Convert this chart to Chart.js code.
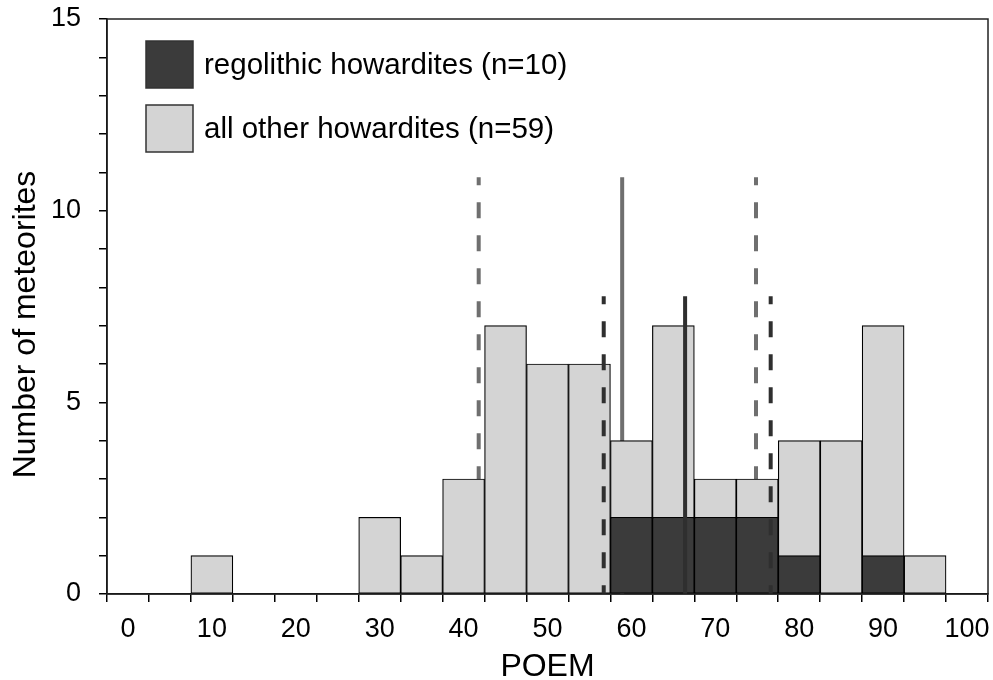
<!DOCTYPE html>
<html>
<head>
<meta charset="utf-8">
<script src="https://cdn.jsdelivr.net/npm/chart.js@4.4.1/dist/chart.umd.min.js"></script>
<style>
  html, body { margin: 0; padding: 0; background: #fff; }
  #wrap { width: 993px; height: 680px; position: relative; }
</style>
</head>
<body>
<div id="wrap"><canvas id="c" width="993" height="680"></canvas></div>
<script>
// Bin labels (POEM, bin centres every 5)
const categories = ['0','5','10','15','20','25','30','35','40','45','50','55','60','65','70','75','80','85','90','95','100'];
// all other howardites (n=59)
const otherCounts = [null,null,1,null,null,null,2,1,3,7,6,6,4,7,3,3,4,4,7,1,null];
// regolithic howardites (n=10)
const regolithicCounts = [null,null,null,null,null,null,null,null,null,null,null,null,2,2,2,2,1,null,1,null,null];
// Vertical reference lines (POEM positions) and their heights
const otherLineX = [41.8, 58.9, 74.85];      // dashed, solid, dashed
const otherLineTop = 10.87;
const regolithicLineX = [56.7, 66.4, 76.6];  // dashed, solid, dashed
const regolithicLineTop = 7.77;
const yTickLabels = [0, 5, 10, 15];

const FONT = "'Liberation Sans', Arial, sans-serif";
const DARK = '#3b3b3b';
const LIGHT = '#d4d4d4';
const GRAYLINE = '#6f6f6f';
const DARKLINE = '#2f2f2f';

function vline(x, top, color, dashed, order, label) {
  return {
    type: 'line', label: label, xAxisID: 'xl', yAxisID: 'y',
    data: [{x: x, y: top}, {x: x, y: 0}],
    borderColor: color, borderWidth: 4, borderDash: dashed ? [16, 17] : [],
    borderDashOffset: dashed ? 8 : 0,
    pointRadius: 0, fill: false, order: order, borderCapStyle: 'butt', tension: 0
  };
}

const lineSets = [];
otherLineX.forEach((x, i) => lineSets.push(vline(x, otherLineTop, GRAYLINE, i !== 1, 5, 'other-line')));
regolithicLineX.forEach((x, i) => lineSets.push(vline(x, regolithicLineTop, DARKLINE, i !== 1, 0, 'regolithic-line')));

const legendPlugin = {
  id: 'boxLegend',
  afterDraw(chart) {
    const ctx = chart.ctx;
    const items = [chart.data.datasets[0], chart.data.datasets[1]];
    ctx.save();
    items.forEach((ds, i) => {
      const bx = 146, by = 41 + i * 64, s = 47;
      ctx.fillStyle = ds.backgroundColor;
      ctx.fillRect(bx, by, s, s);
      ctx.lineWidth = 1.5;
      ctx.strokeStyle = '#333';
      ctx.strokeRect(bx, by, s, s);
      ctx.fillStyle = '#000';
      ctx.font = '29.5px ' + FONT;
      ctx.textBaseline = 'middle';
      ctx.textAlign = 'left';
      ctx.fillText(ds.label, 204, by + s / 2 + 1);
    });
    ctx.restore();
  }
};

const framePlugin = {
  id: 'frame',
  afterDatasetsDraw(chart) {
    const {ctx, chartArea: a} = chart;
    ctx.save();
    ctx.strokeStyle = '#222';
    ctx.lineWidth = 1.5;
    ctx.strokeRect(a.left, a.top, a.right - a.left, a.bottom - a.top);
    ctx.restore();
  }
};

new Chart(document.getElementById('c'), {
  type: 'bar',
  data: {
    labels: categories,
    datasets: [
      { label: 'regolithic howardites (n=10)', data: regolithicCounts, backgroundColor: DARK,
        borderColor: '#000', borderWidth: 1.2, borderSkipped: false, grouped: false,
        barPercentage: 1, categoryPercentage: 1, order: 1 },
      { label: 'all other howardites (n=59)', data: otherCounts, backgroundColor: LIGHT,
        borderColor: '#000', borderWidth: 1.2, borderSkipped: false, grouped: false,
        barPercentage: 1, categoryPercentage: 1, order: 2 },
      ...lineSets
    ]
  },
  options: {
    responsive: false,
    animation: false,
    devicePixelRatio: 1,
    layout: { padding: 0 },
    plugins: { legend: { display: false }, tooltip: { enabled: false } },
    scales: {
      x: {
        type: 'category', offset: true,
        grid: { display: true, drawOnChartArea: false, drawTicks: true, tickLength: 8, color: '#000', lineWidth: 1.5, offset: true },
        border: { display: true, color: '#000', width: 1.5 },
        ticks: {
          autoSkip: false, maxRotation: 0, minRotation: 0, padding: 11, color: '#000',
          font: { family: FONT, size: 27 },
          callback: function(v, i) { const l = categories[i]; return (Number(l) % 10 === 0) ? l : ''; }
        },
        title: { display: true, text: 'POEM', color: '#000', font: { family: FONT, size: 32, lineHeight: 1 }, padding: { top: 0, bottom: -3 } },
        afterFit(s) { s.height = 86; s.paddingLeft = 0; s.paddingRight = 5; }
      },
      xl: { type: 'linear', display: false, offset: false, grace: 0, bounds: 'ticks', min: -2.5, max: 102.5 },
      y: {
        type: 'linear', min: 0, max: 15,
        grid: { display: true, drawOnChartArea: false, drawTicks: true, tickLength: 8, color: '#000', lineWidth: 1.5 },
        border: { display: true, color: '#000', width: 1.5 },
        ticks: {
          stepSize: 1, padding: 18, color: '#000', autoSkip: false,
          font: { family: FONT, size: 27 },
          callback: function(v) { return yTickLabels.includes(v) ? String(v) : ''; }
        },
        title: { display: true, text: 'Number of meteorites', color: '#000', font: { family: FONT, size: 32, lineHeight: 1.2 }, padding: { top: 7, bottom: 0 } },
        afterFit(s) { s.width = 107; s.paddingTop = 19; s.paddingBottom = 0; },
        afterUpdate(s) {
          if (!s._titleShifted) {
            const orig = s.drawTitle;
            s.drawTitle = function() { this.ctx.save(); this.ctx.translate(0, 18); orig.call(this); this.ctx.restore(); };
            s._titleShifted = true;
          }
        }
      }
    }
  },
  plugins: [legendPlugin, framePlugin]
});
</script>
</body>
</html>
